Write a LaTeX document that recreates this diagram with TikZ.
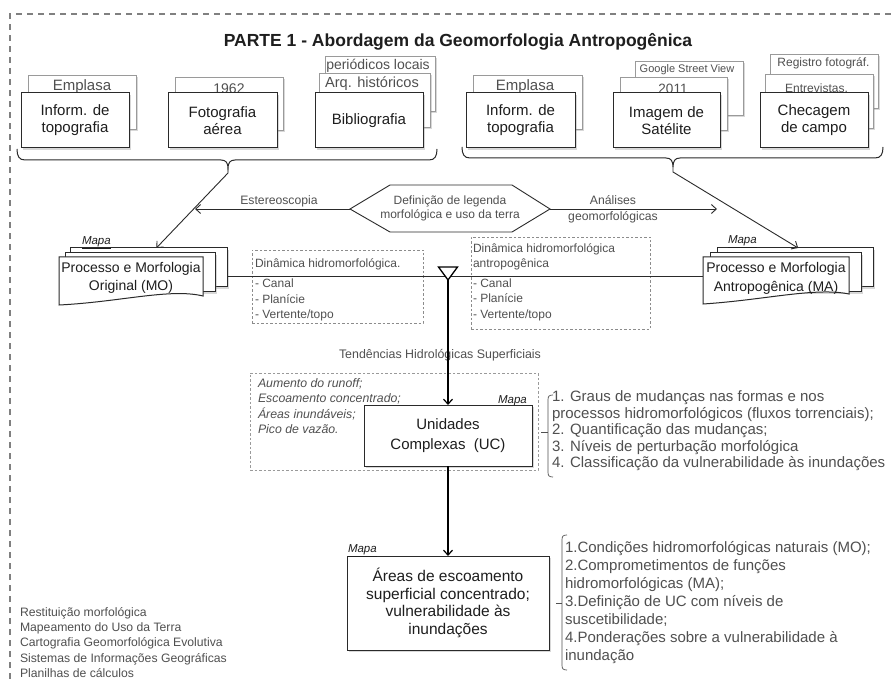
\documentclass[tikz,border=0pt]{standalone}
\usepackage{fontspec}
\setmainfont{Liberation Sans}
\usetikzlibrary{arrows.meta,shadows,calc}
\definecolor{boxline}{HTML}{2A2A2A}
\definecolor{txt}{HTML}{1E1E1E}
\definecolor{gtxt}{HTML}{505050}
\definecolor{lgline}{HTML}{9A9A9A}
\definecolor{dline}{HTML}{8C8C8C}
\tikzset{
  every node/.style={inner sep=0pt, outer sep=0pt},
  shd/.style={drop shadow={shadow xshift=1.8pt, shadow yshift=-1.8pt, opacity=0.3}},
  mainbox/.style={draw=boxline, line width=1pt, fill=white, shd, align=center, text=txt, font=\fontsize{15}{17}\selectfont},
  backbox/.style={draw=lgline, line width=0.7pt, fill=white, shd},
  backtxt/.style={text=gtxt},
  fA/.style={font=\fontsize{15}{17}\selectfont},
  fB/.style={font=\fontsize{14}{16}\selectfont},
  fC/.style={font=\fontsize{12}{14}\selectfont},
  fD/.style={font=\fontsize{11}{13}\selectfont},
  smalltxt/.style={text=gtxt, align=center, font=\fontsize{12.2}{14}\selectfont},
  dashbox/.style={draw=dline, dash pattern=on 2.5pt off 2pt, line width=0.6pt},
  arr/.style={-{Straight Barb[length=5pt,width=9pt]}, draw=boxline, line width=0.9pt},
  varr/.style={-{Straight Barb[length=5pt,width=9pt]}, draw=black, line width=1.2pt},
  bracepath/.style={draw=boxline, line width=1pt},
  mapa/.style={font=\fontsize{11.5}{13}\selectfont\itshape, text=txt},
  doclayer/.style={draw=boxline, line width=1pt, fill=white, shd},
  docfront/.style={draw=boxline, line width=1pt, fill=white},
  lbrack/.style={draw=gtxt, line width=0.7pt},
}
\begin{document}
\begin{tikzpicture}[x=1pt,y=-1pt]
\useasboundingbox (0,0) rectangle (895,679);
\fill[white] (0,0) rectangle (895,679);
% outer dashed frame
\draw[draw=gray, line width=1.2pt, dash pattern=on 6pt off 5pt] (10,679) -- (10,14) -- (895,14);
% title
\node[font=\fontsize{17.5}{20}\selectfont\bfseries, text=txt] (title) at (458,42) {PARTE 1 - Abordagem da Geomorfologia Antropogênica};

% ---------- left group ----------
\node[backbox, minimum width=108, minimum height=54] (bk1) at (82,102) {};
\node[backtxt, fA] (bk1t) at (82,87) {Emplasa};
\node[mainbox, minimum width=108, minimum height=55] (m1) at (75,120.5) {Inform. de\\topografia};

\node[backbox, minimum width=108, minimum height=53] (bk2) at (229,103.5) {};
\node[backtxt, fB] (bk2t) at (229,89) {1962};
\node[mainbox, minimum width=109, minimum height=55] (m2) at (222.5,120.5) {Fotografia\\aérea};

\node[backbox, minimum width=110, minimum height=55] (bk3b) at (380,83.5) {};
\node[backtxt, fB] (bk3bt) at (378,66) {periódicos locais};
\node[backbox, minimum width=111, minimum height=54] (bk3a) at (374.5,100) {};
\node[backtxt, font=\fontsize{14.6}{16}\selectfont] (bk3at) at (372,84) {Arq. históricos};
\node[mainbox, minimum width=108, minimum height=55] (m3) at (369,120.5) {Bibliografia};

% ---------- right group ----------
\node[backbox, minimum width=109, minimum height=54] (bk4) at (527.5,102) {};
\node[backtxt, fA] (bk4t) at (525,87) {Emplasa};
\node[mainbox, minimum width=109, minimum height=55] (m4) at (520.5,120.5) {Inform. de\\topografia};

\node[backbox, minimum width=108, minimum height=54] (bk5b) at (689,88) {};
\node[backtxt, fD] (bk5bt) at (687,70) {Google Street View};
\node[backbox, minimum width=107, minimum height=53] (bk5a) at (673.5,103.5) {};
\node[backtxt, font=\fontsize{13.5}{15}\selectfont] (bk5at) at (673,89) {2011};
\node[mainbox, minimum width=107, minimum height=55] (m5) at (666.5,120.5) {Imagem de\\Satélite};

\node[backbox, minimum width=108, minimum height=54] (bk6b) at (824,81) {};
\node[backtxt, fC] (bk6bt) at (823.5,63) {Registro fotográf.};
\node[backbox, minimum width=108, minimum height=54] (bk6a) at (819,101) {};
\node[backtxt, fC] (bk6at) at (816.5,88) {Entrevistas.};
\node[mainbox, minimum width=108, minimum height=55] (m6) at (814,120.5) {Checagem\\de campo};

% ---------- braces ----------
\coordinate (bl) at (228,168);
\draw[bracepath] (17,149) .. controls (17,156) and (19,160) .. (25,160) -- (221,160) .. controls (226,160) and (228,163) .. (bl)
  .. controls (228,163) and (230,160) .. (235,160) -- (429,160) .. controls (435,160) and (437,156) .. (437,149);
\coordinate (br) at (673,167);
\draw[bracepath] (462,147) .. controls (462,154) and (464,158) .. (470,158) -- (666,158) .. controls (671,158) and (673,161) .. (br)
  .. controls (673,161) and (675,158) .. (680,158) -- (875,158) .. controls (881,158) and (883,154) .. (883,147);

% ---------- hexagon ----------
\coordinate (hexL) at (350,209);
\coordinate (hexR) at (550,209);
\draw[draw=boxline, line width=0.9pt, fill=white] (hexL) -- (390,185) -- (512,185) -- (hexR) -- (512,232) -- (390,232) -- cycle;
\node[smalltxt, font=\fontsize{12}{14}\selectfont] (hext) at (450,208) {Definição de legenda\\morfológica e uso da terra};
\coordinate (estEnd) at (195,209);
\coordinate (anaEnd) at (717,209);
\draw[arr] (hexL) -- (estEnd);
\draw[arr] (hexR) -- (anaEnd);
\node[smalltxt] (est) at (279,201) {Estereoscopia};
\node[smalltxt, font=\fontsize{12.2}{16}\selectfont] (ana) at (613,209) {Análises\\geomorfológicas};

% ---------- dashed boxes middle ----------
\node[dashbox, minimum width=171, minimum height=73, anchor=north west] (d1) at (252,250) {};
\node[text=gtxt, align=left, anchor=west, font=\fontsize{12}{15.5}\selectfont] (d1t) at (255,290) {Dinâmica hidromorfológica.\\[5pt]- Canal\\- Planície\\- Vertente/topo};
\node[dashbox, minimum width=179, minimum height=92, anchor=north west] (d2) at (471,237) {};
\node[text=gtxt, align=left, anchor=west, font=\fontsize{12}{15.3}\selectfont] (d2t) at (473,282) {Dinâmica hidromorfológica\\antropogênica\\[4.5pt]- Canal\\- Planície\\- Vertente/topo};

% ---------- MO document ----------
\node[doclayer, minimum width=157, minimum height=39, anchor=north west] (moBack) at (70,248) {};
\node[doclayer, minimum width=150, minimum height=39, anchor=north west] (moMid) at (65,253) {};
\draw[docfront] (59,257) -- (203,257) -- (203,296) .. controls (170,288) and (120,302) .. (59,305) -- cycle;
\node[align=center, text=txt, font=\fontsize{14}{18}\selectfont] (mo) at (131,278) {Processo e Morfologia\\Original (MO)};
\node[mapa, anchor=south west] (moMapa) at (82,249) {\underline{Mapa}};

% ---------- MA document ----------
\node[doclayer, minimum width=156, minimum height=39, anchor=north west] (maBack) at (717,248) {};
\node[doclayer, minimum width=151, minimum height=39, anchor=north west] (maMid) at (710,253) {};
\draw[docfront] (703,257) -- (849,257) -- (849,294) .. controls (815,287) and (765,300) .. (703,304) -- cycle;
\node[align=center, text=txt, font=\fontsize{14}{19}\selectfont] (ma) at (776,278) {Processo e Morfologia\\Antropogênica (MA)};
\node[mapa, anchor=south west] (maMapa) at (728,248) {\underline{Mapa}};

% connectors from braces
\draw[arr] (bl) -- ++(0,5) -- ($(moBack.north west)!0.55!(moBack.north east)$);
\draw[arr] (br) -- ++(0,5) -- ($(maBack.north west)!0.52!(maBack.north east)$);

% horizontal line + merge triangle
\coordinate (junc) at (448,277);
\draw[draw=boxline, line width=1pt] (moBack.east |- junc) -- (703,277);
\coordinate (triTip) at (448,280);
\draw[draw=black, line width=1.3pt, fill=white] (438.5,267) -- (457.5,267) -- (triTip) -- cycle;

% trends label
\node[smalltxt, font=\fontsize{12.4}{14}\selectfont] (tend) at (440,355) {Tendências Hidrológicas Superficiais};

% italic dashed box
\node[dashbox, draw=lgline, minimum width=288, minimum height=97, anchor=north west] (d3) at (250,373) {};
\node[text=gtxt, align=left, anchor=west, font=\fontsize{12.3}{15.3}\selectfont\itshape] (d3t) at (258,406) {Aumento do runoff;\\Escoamento concentrado;\\Áreas inundáveis;\\Pico de vazão.};

% UC
\node[mainbox, minimum width=168, minimum height=61, font=\fontsize{15}{20}\selectfont] (uc) at (448,435.5) {Unidades\\Complexas~ (UC)};
\node[mapa] (ucMapa) at (512.5,401) {Mapa};
\draw[varr] (triTip) -- (uc.north);

% list 1
\draw[lbrack] (553,395) .. controls (549.5,395) and (548,396) .. (548,399.5) -- (548,472.5) .. controls (548,476) and (549.5,477) .. (553,477);
\draw[lbrack] (541,432) -- (548,432);
\node[text=gtxt, align=left, anchor=west, font=\fontsize{15}{16.5}\selectfont] (l1) at (552,431) {1. Graus de mudanças nas formas e nos\\processos hidromorfológicos (fluxos torrenciais);\\2. Quantificação das mudanças;\\3. Níveis de perturbação morfológica\\4. Classificação da vulnerabilidade às inundações};

% Areas box
\node[mainbox, minimum width=202, minimum height=94, font=\fontsize{15.5}{17.4}\selectfont] (area) at (448,603) {Áreas de escoamento\\superficial concentrado;\\vulnerabilidade às\\inundações};
\node[mapa, anchor=south west] (arMapa) at (348,557) {\underline{Mapa}};
\draw[varr] (uc.south) -- (area.north);

% list 2
\draw[lbrack] (567,535) .. controls (563.5,535) and (562,536) .. (562,539.5) -- (562,665.5) .. controls (562,669) and (563.5,670) .. (567,670);
\draw[lbrack] (556,603) -- (562,603);
\node[text=gtxt, align=left, anchor=west, font=\fontsize{15}{18}\selectfont] (l2) at (565,603) {1.Condições hidromorfológicas naturais (MO);\\2.Comprometimentos de funções\\hidromorfológicas (MA);\\3.Definição de UC com níveis de\\suscetibilidade;\\4.Ponderações sobre a vulnerabilidade à\\inundação};

% bottom-left list
\node[text=gtxt, align=left, anchor=west, font=\fontsize{12.2}{15.3}\selectfont] (tools) at (20,642.5) {Restituição morfológica\\Mapeamento do Uso da Terra\\Cartografia Geomorfológica Evolutiva\\Sistemas de Informações Geográficas\\Planilhas de cálculos};
\end{tikzpicture}
\end{document}
